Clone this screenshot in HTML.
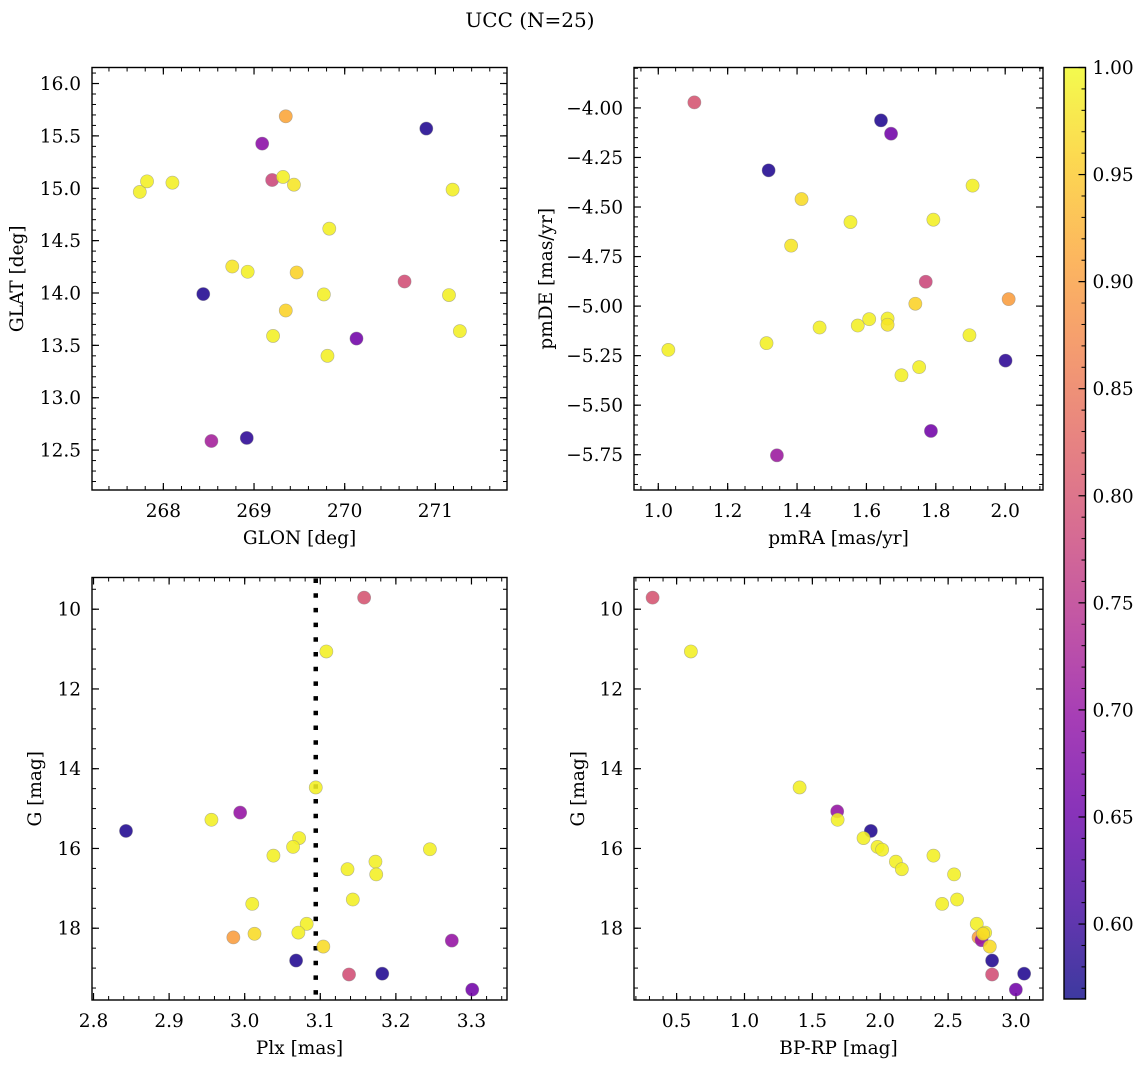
<!DOCTYPE html>
<html><head><meta charset="utf-8"><style>
html,body{margin:0;padding:0;background:#fff;}
svg{display:block;font-family:"DejaVu Serif","Liberation Serif",serif;}
</style></head><body>
<svg id="fig" width="1148" height="1067" viewBox="0 0 1148 1067" xmlns="http://www.w3.org/2000/svg">
<defs>
<linearGradient id="plasma" x1="0" y1="1" x2="0" y2="0">
<stop offset="0" stop-color="#0d0887"/><stop offset="0.1" stop-color="#41049d"/><stop offset="0.2" stop-color="#6a00a8"/><stop offset="0.3" stop-color="#8f0da4"/><stop offset="0.4" stop-color="#b12a90"/><stop offset="0.5" stop-color="#cc4778"/><stop offset="0.6" stop-color="#e16462"/><stop offset="0.7" stop-color="#f2844b"/><stop offset="0.8" stop-color="#fca636"/><stop offset="0.9" stop-color="#fcce25"/><stop offset="1" stop-color="#f0f921"/>
</linearGradient>
</defs>
<text x="530" y="27" font-size="20" text-anchor="middle">UCC (N=25)</text>
</svg>
<script>
// ---- data ----
const glon = [267.74,267.82,268.10,269.35,269.09,270.90,269.20,269.32,269.44,271.19,269.83,268.76,268.93,269.47,268.44,269.77,270.66,271.15,269.35,269.21,271.27,270.13,269.81,268.53,268.92];
const glat = [14.965,15.066,15.053,15.687,15.426,15.57,15.079,15.108,15.034,14.987,14.614,14.253,14.203,14.196,13.99,13.986,14.11,13.98,13.833,13.59,13.636,13.565,13.40,12.587,12.616];
const probA = [0.99,0.99,0.99,0.91,0.69,0.58,0.78,0.99,0.98,0.99,0.99,0.98,0.99,0.96,0.58,0.99,0.79,0.99,0.96,0.99,0.99,0.66,0.99,0.72,0.59];

const pmra = [1.104,1.642,1.671,1.318,1.906,1.413,1.554,1.793,1.383,1.771,2.010,1.741,1.608,1.661,1.661,1.575,1.465,1.897,1.312,1.029,2.001,1.752,1.701,1.786,1.342];
const pmde = [-3.972,-4.063,-4.130,-4.315,-4.392,-4.460,-4.576,-4.564,-4.695,-4.877,-4.965,-4.988,-5.066,-5.063,-5.094,-5.098,-5.108,-5.147,-5.187,-5.221,-5.275,-5.308,-5.349,-5.630,-5.753];
const probB = [0.80,0.58,0.66,0.58,0.99,0.97,0.99,0.99,0.98,0.78,0.90,0.96,0.99,0.99,0.98,0.99,0.99,0.99,0.99,0.99,0.59,0.99,0.99,0.66,0.71];

const plx = [3.158,3.108,3.094,2.994,2.956,2.843,3.072,3.064,3.038,3.245,3.173,3.136,3.174,3.143,3.010,3.082,3.013,3.071,2.985,3.274,3.104,3.068,3.138,3.182,3.301];
const gmagC = [9.71,11.06,14.47,15.10,15.28,15.56,15.74,15.96,16.18,16.02,16.33,16.52,16.65,17.28,17.39,17.89,18.14,18.11,18.23,18.31,18.46,18.81,19.16,19.14,19.54];
const probC = [0.80,0.99,0.99,0.70,0.99,0.58,0.99,0.99,0.99,0.99,0.99,0.99,0.99,0.99,0.99,0.99,0.97,0.99,0.90,0.70,0.97,0.58,0.79,0.58,0.66];
const plxMedian = [3.094];

const bprp = [0.323,0.605,1.406,1.683,1.686,1.931,1.877,1.980,2.014,2.115,2.159,2.392,2.544,2.456,2.566,2.711,2.724,2.746,2.773,2.758,2.807,2.824,2.824,3.060,2.999];
const gmagD = [9.71,11.06,14.47,15.07,15.28,15.56,15.74,15.96,16.03,16.33,16.52,16.18,16.65,17.39,17.28,17.89,18.23,18.30,18.11,18.14,18.46,18.81,19.16,19.14,19.54];
const probD = [0.80,0.99,0.99,0.70,0.99,0.58,0.99,0.99,0.99,0.99,0.99,0.99,0.99,0.99,0.99,0.99,0.90,0.70,0.99,0.97,0.97,0.58,0.79,0.58,0.66];

const ticksA_x = [268,269,270,271];
const ticksA_y = [12.5,13.0,13.5,14.0,14.5,15.0,15.5,16.0];
const ticksB_x = [1.0,1.2,1.4,1.6,1.8,2.0];
const ticksB_y = [-4.00,-4.25,-4.50,-4.75,-5.00,-5.25,-5.50,-5.75];
const ticksC_x = [2.8,2.9,3.0,3.1,3.2,3.3];
const ticksG = [10,12,14,16,18];
const ticksD_x = [0.5,1.0,1.5,2.0,2.5,3.0];
const ticksCbar = [0.60,0.65,0.70,0.75,0.80,0.85,0.90,0.95,1.00];

// ---- rendering ----
const NS = "http://www.w3.org/2000/svg";
const svg = document.getElementById('fig');
const VMIN = 0.565, VMAX = 1.0;
const FS = 18.5;
const stops = [[13,8,135],[65,4,157],[106,0,168],[143,13,164],[177,42,144],[204,71,120],[225,100,98],[242,132,75],[252,166,54],[252,206,37],[240,249,33]];
function plasma(v){
  let t = Math.max(0, Math.min(1, (v - VMIN) / (VMAX - VMIN))) * 10;
  const i = Math.min(9, Math.floor(t)), f = t - i;
  const a = stops[i], b = stops[i+1];
  return 'rgb(' + [0,1,2].map(k => Math.round(a[k] + (b[k]-a[k])*f)).join(',') + ')';
}
function mk(tag, attrs, parent){
  const e = document.createElementNS(NS, tag);
  for (const k in attrs) e.setAttribute(k, attrs[k]);
  (parent || svg).appendChild(e);
  return e;
}
function fmt(v, d){ const s = Math.abs(v).toFixed(d); return (v < 0 ? '\u2212' : '') + s; }

function panel(cfg){
  const g = mk('g', {});
  
  
  const [L,T,R,B] = cfg.box;
  const sx = v => L + (v - cfg.xr[0]) / (cfg.xr[1] - cfg.xr[0]) * (R - L);
  const sy = cfg.yinv ? (v => T + (v - cfg.yr[0]) / (cfg.yr[1] - cfg.yr[0]) * (B - T))
                      : (v => B - (v - cfg.yr[0]) / (cfg.yr[1] - cfg.yr[0]) * (B - T));
  const lo = Math.min(cfg.xr[0], cfg.xr[1]), hi = Math.max(cfg.xr[0], cfg.xr[1]);
  for (let v = Math.ceil(lo / cfg.xminor - 1e-6) * cfg.xminor; v <= hi; v += cfg.xminor){
    const x = sx(v);
    mk('line', {x1:x, y1:B, x2:x, y2:B-4, stroke:'#000', 'stroke-width':1}, g);
    mk('line', {x1:x, y1:T, x2:x, y2:T+4, stroke:'#000', 'stroke-width':1}, g);
  }
  const ylo = Math.min(cfg.yr[0], cfg.yr[1]), yhi = Math.max(cfg.yr[0], cfg.yr[1]);
  for (let v = Math.ceil(ylo / cfg.yminor - 1e-6) * cfg.yminor; v <= yhi; v += cfg.yminor){
    const y = sy(v);
    mk('line', {x1:L, y1:y, x2:L+4, y2:y, stroke:'#000', 'stroke-width':1}, g);
    mk('line', {x1:R, y1:y, x2:R-4, y2:y, stroke:'#000', 'stroke-width':1}, g);
  }
  cfg.xt.forEach(v => {
    const x = sx(v);
    mk('line', {x1:x, y1:B, x2:x, y2:B-7, stroke:'#000', 'stroke-width':1.2}, g);
    mk('line', {x1:x, y1:T, x2:x, y2:T+7, stroke:'#000', 'stroke-width':1.2}, g);
    const t = mk('text', {x:x, y:B+27, 'font-size':FS, 'text-anchor':'middle'}, g);
    
    
    t.textContent = fmt(v, cfg.xd);
  });
  cfg.yt.forEach(v => {
    const y = sy(v);
    mk('line', {x1:L, y1:y, x2:L+7, y2:y, stroke:'#000', 'stroke-width':1.2}, g);
    mk('line', {x1:R, y1:y, x2:R-7, y2:y, stroke:'#000', 'stroke-width':1.2}, g);
    const t = mk('text', {x:L-11, y:y+6.5, 'font-size':FS, 'text-anchor':'end'}, g);
    
    
    t.textContent = fmt(v, cfg.yd);
  });
  if (cfg.vline){
    const x = sx(cfg.vline[0]);
    const ln = mk('line', {x1:x, y1:T+1, x2:x, y2:B, stroke:'#000', 'stroke-width':4.5, 'stroke-dasharray':'4.5 10.2'}, g);
    
    
  }
  cfg.xs.forEach((xv, i) => {
    const c = mk('circle', {cx:sx(xv), cy:sy(cfg.ys[i]), r:6.6, fill:plasma(cfg.c[i]), 'fill-opacity':0.88, stroke:'#888', 'stroke-opacity':0.6, 'stroke-width':0.6}, g);
    
    
  });
  const fr = mk('rect', {x:L, y:T, width:R-L, height:B-T, fill:'none', stroke:'#000', 'stroke-width':1.4}, g);
  
  
  const xl = mk('text', {x:(L+R)/2, y:B+54, 'font-size':FS, 'text-anchor':'middle'}, g);
  
  
  xl.textContent = cfg.xlabel;
  const yx = cfg.ylx, yy = (T+B)/2;
  const yl = mk('text', {x:yx, y:yy, 'font-size':FS, 'text-anchor':'middle', transform:'rotate(-90 '+yx+' '+yy+')'}, g);
  
  
  yl.textContent = cfg.ylabel;
}

panel({name:'glon-glat-panel', box:[92,67.5,507,490], xr:[267.213,271.79], yr:[12.119,16.153], xt:ticksA_x, yt:ticksA_y, xd:0, yd:1, xminor:0.2, yminor:0.1, xs:glon, ys:glat, c:probA, xlabel:'GLON [deg]', ylabel:'GLAT [deg]', ylx:23});
panel({name:'pm-panel', box:[634,67.5,1043,490], xr:[0.930,2.109], yr:[-5.928,-3.796], xt:ticksB_x, yt:ticksB_y, xd:1, yd:2, xminor:0.05, yminor:0.05, xs:pmra, ys:pmde, c:probB, xlabel:'pmRA [mas/yr]', ylabel:'pmDE [mas/yr]', ylx:552});
panel({name:'plx-g-panel', box:[92,577.5,507,1000], xr:[2.798,3.347], yr:[9.205,19.80], yinv:true, xt:ticksC_x, yt:ticksG, xd:1, yd:0, xminor:0.02, yminor:0.5, xs:plx, ys:gmagC, c:probC, vline:plxMedian, xlabel:'Plx [mas]', ylabel:'G [mag]', ylx:41});
panel({name:'cmd-panel', box:[634,577.5,1043,1000], xr:[0.186,3.199], yr:[9.205,19.80], yinv:true, xt:ticksD_x, yt:ticksG, xd:1, yd:0, xminor:0.1, yminor:0.5, xs:bprp, ys:gmagD, c:probD, xlabel:'BP-RP [mag]', ylabel:'G [mag]', ylx:584});

const cb = mk('g', {});


const CL = 1064, CR = 1085.5, CT = 67.5, CB = 999;
mk('rect', {x:CL, y:CT, width:CR-CL, height:CB-CT, fill:'url(#plasma)', 'fill-opacity':0.8}, cb);
const cy = v => CB - (v - VMIN) / (VMAX - VMIN) * (CB - CT);
for (let k = 57; k <= 100; k++){
  const v = k / 100, y = cy(v);
  const major = (k % 5 === 0);
  mk('line', {x1:CR, y1:y, x2:CR-(major?7:4), y2:y, stroke:'#000', 'stroke-width':major?1.2:1}, cb);
}
ticksCbar.forEach(v => {
  const t = mk('text', {x:CR+7, y:cy(v)+6.5, 'font-size':FS}, cb);
  
  
  t.textContent = v.toFixed(2);
});
mk('rect', {x:CL, y:CT, width:CR-CL, height:CB-CT, fill:'none', stroke:'#000', 'stroke-width':1.4}, cb);
</script>
</body></html>
